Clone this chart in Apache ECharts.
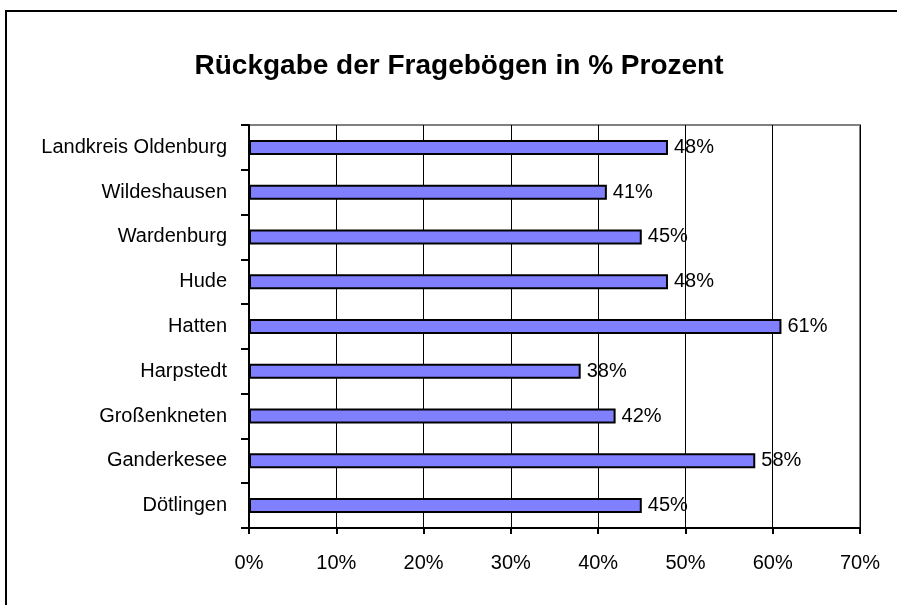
<!DOCTYPE html>
<html>
<head>
<meta charset="utf-8">
<script src="https://cdn.jsdelivr.net/npm/echarts@6/dist/echarts.min.js"></script>
<style>
html,body{margin:0;padding:0;background:#fff;}
#chart{width:897px;height:605px;}
</style>
</head>
<body>
<div id="chart"></div>
<script>
// Categories listed bottom to top (ECharts draws first category at the bottom)
const categories = ["Dötlingen", "Ganderkesee", "Großenkneten", "Harpstedt", "Hatten", "Hude", "Wardenburg", "Wildeshausen", "Landkreis Oldenburg"];
const values = [45, 58, 42, 38, 61, 48, 45, 41, 48];
const xTicks = [0, 10, 20, 30, 40, 50, 60, 70];
const titleText = "Rückgabe der Fragebögen in % Prozent";

const FONT = "'Liberation Sans', Arial, sans-serif";
const chart = echarts.init(document.getElementById('chart'), null, {renderer: 'canvas'});
chart.setOption({
  animation: false,
  backgroundColor: '#ffffff',
  graphic: [
    {type: 'rect', shape: {x: 6, y: 11, width: 1000, height: 1000},
     style: {fill: 'none', stroke: '#000', lineWidth: 2}, z: 100},
    {type: 'text', x: 459, y: 66,
     style: {text: titleText, font: "bold 28px " + FONT, fill: '#000', textAlign: 'center', textVerticalAlign: 'middle'}}
  ],
  grid: {left: 249, right: 37, top: 125, bottom: 77, show: true, borderColor: '#808080', borderWidth: 2, backgroundColor: 'transparent'},
  xAxis: {
    type: 'value', min: xTicks[0], max: xTicks[xTicks.length - 1], interval: 10,
    axisLine: {show: true, lineStyle: {color: '#000', width: 2}},
    axisTick: {show: true, length: 6, lineStyle: {color: '#000', width: 2}},
    axisLabel: {formatter: '{value}%', fontSize: 20, fontFamily: FONT, color: '#000', margin: 25},
    splitLine: {show: true, lineStyle: {color: '#000', width: 1}}
  },
  yAxis: {
    type: 'category', data: categories,
    axisLine: {show: true, lineStyle: {color: '#000', width: 2}},
    axisTick: {show: true, length: 8, lineStyle: {color: '#000', width: 2}},
    axisLabel: {fontSize: 20, fontFamily: FONT, color: '#000', margin: 22},
    splitLine: {show: false}
  },
  series: [{
    type: 'bar', data: values, barWidth: 15,
    itemStyle: {color: '#8080ff', borderColor: '#000', borderWidth: 2},
    label: {show: true, position: 'right', distance: 6, formatter: '{c}%', fontSize: 20, fontFamily: FONT, color: '#000'}
  }]
});
</script>
</body>
</html>
